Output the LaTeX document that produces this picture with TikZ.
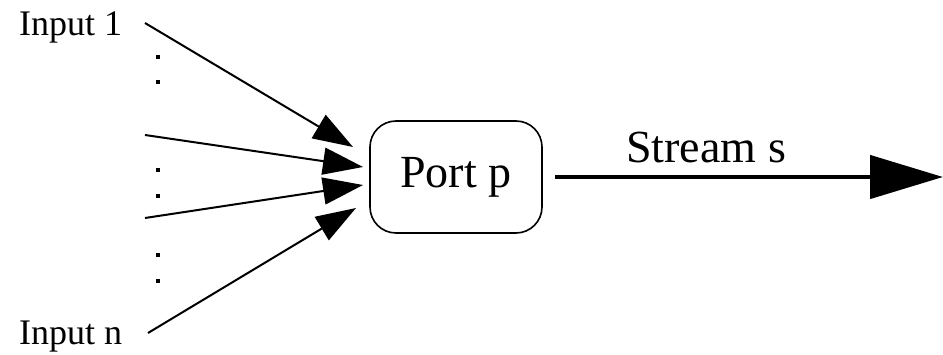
\documentclass[tikz,border=0pt]{standalone}
\usepackage{fontspec}
\setmainfont{Liberation Serif}
\usetikzlibrary{arrows.meta}
\begin{document}
\begin{tikzpicture}[x=1pt,y=-1pt,
  lbl/.style={font=\fontsize{36}{40}\selectfont, inner sep=0pt, anchor=base west},
  big/.style={font=\fontsize{46}{52}\selectfont},
  inarrow/.style={line width=2pt, -{Triangle[length=40pt,width=27pt]}},
  outarrow/.style={line width=4.5pt, -{Triangle[length=73pt,width=43pt]}},
  dotmark/.style={fill=black},
  portbox/.style={draw, line width=1.6pt, rounded corners=26pt, minimum width=172pt, minimum height=112pt, inner sep=0pt}]
\useasboundingbox (0,0) rectangle (943,355);
\node[lbl] (in1) at (19,36) {Input 1};
\node[lbl] (inn) at (19,345) {Input n};
\node[portbox, big] (port) at (456,177) {Port p};
\node[big, inner sep=0pt, anchor=base west] (stream) at (626,163) {Stream s};
\coordinate (s1) at (145,23);
\coordinate (s2) at (145,135);
\coordinate (s3) at (145,218);
\coordinate (s4) at (148,333);
\coordinate (t1) at (353,147);
\coordinate (t2) at (363,167);
\coordinate (t3) at (363,185);
\coordinate (t4) at (356,208);
\coordinate (o1) at (555,177);
\coordinate (o2) at (943,177);
\draw[inarrow] (s1) -- (t1);
\draw[inarrow] (s2) -- (t2);
\draw[inarrow] (s3) -- (t3);
\draw[inarrow] (s4) -- (t4);
\draw[outarrow] (port.east -| o1) -- (o2);
\foreach \y in {57,82,170,196,255,281}
  \fill[dotmark] (156,\y-2) rectangle (160,\y+2);
\end{tikzpicture}
\end{document}
